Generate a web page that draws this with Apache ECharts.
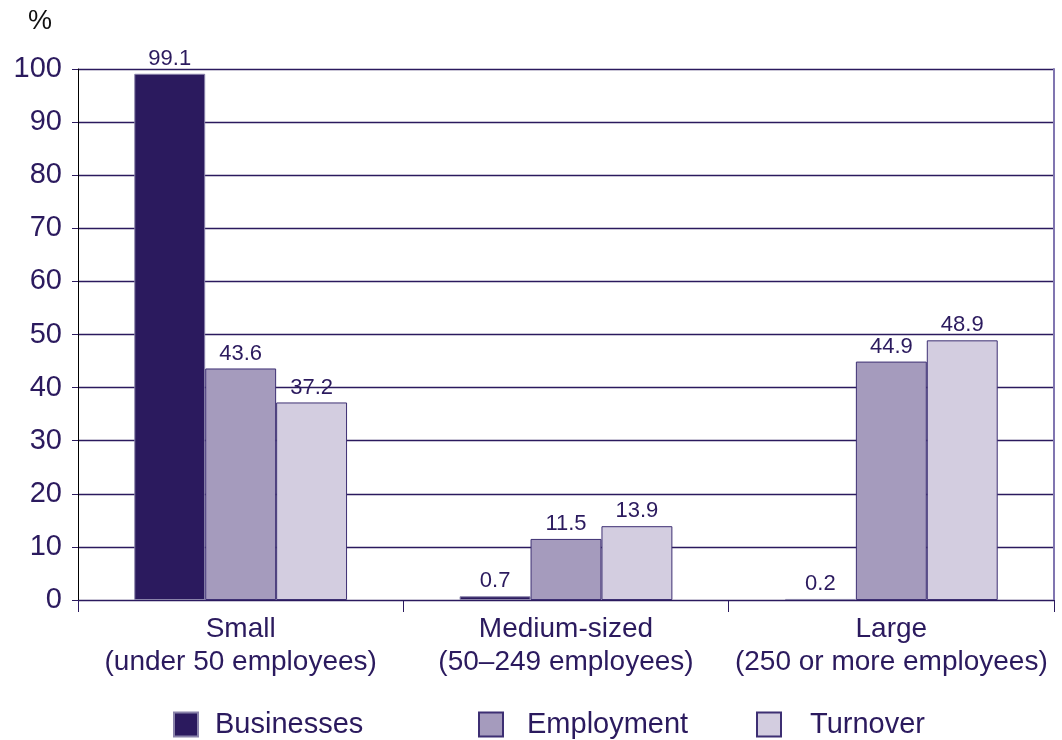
<!DOCTYPE html>
<html>
<head>
<meta charset="utf-8">
<script src="https://cdn.jsdelivr.net/npm/echarts@6/dist/echarts.min.js"></script>
<style>html,body{margin:0;padding:0;background:#fff;}#c{width:1062px;height:740px;}</style>
</head>
<body>
<div id="c"></div>
<script>
const categories = ['Small\n(under 50 employees)', 'Medium-sized\n(50\u2013249 employees)', 'Large\n(250 or more employees)'];
const seriesNames = ['Businesses', 'Employment', 'Turnover'];
const businesses = [99.1, 0.7, 0.2];
const employment = [43.6, 11.5, 44.9];
const turnover = [37.2, 13.9, 48.9];
const yTicks = [0, 10, 20, 30, 40, 50, 60, 70, 80, 90, 100];

const dark = '#2b1a5e';
const font = 'Liberation Sans, Arial, Helvetica, sans-serif';
const chart = echarts.init(document.getElementById('c'));
const lbl = { show: true, position: 'top', distance: 4, color: dark, fontSize: 22, fontFamily: font, formatter: p => p.value.toFixed(1) };
const legendPos = [[173, 12], [478, 19], [756, 24]];
chart.setOption({
  animation: false,
  textStyle: { fontFamily: font },
  title: { text: '%', left: 28, top: 8, padding: 0, textStyle: { color: '#111', fontSize: 27, fontWeight: 'normal', fontFamily: font } },
  grid: { left: 78, right: 8, top: 69, bottom: 140, containLabel: false },
  legend: seriesNames.map((n, i) => ({
    left: legendPos[i][0], top: 710, padding: 0, itemWidth: 24, itemHeight: 24, icon: 'rect',
    textStyle: { color: dark, fontSize: 29, fontFamily: font, padding: [0, 0, 0, legendPos[i][1]] },
    data: [n]
  })),
  xAxis: {
    type: 'category', data: categories,
    axisLine: { show: true, lineStyle: { color: dark, width: 1 } },
    axisTick: { show: true, alignWithLabel: false, length: 12, lineStyle: { color: dark } },
    axisLabel: { color: dark, fontSize: 28, lineHeight: 33, margin: 13, fontFamily: font, interval: 0 }
  },
  yAxis: [{
    type: 'value', min: 0, max: 100, interval: 10,
    axisLine: { show: true, lineStyle: { color: '#000', width: 1 } },
    axisTick: { show: true, length: 6, lineStyle: { color: dark } },
    axisLabel: { color: dark, fontSize: 29, margin: 16, fontFamily: font, formatter: v => yTicks.includes(v) ? String(v) : '' },
    splitLine: { show: true, lineStyle: { color: dark, width: 1.3 } }
  }, {
    type: 'value', min: 0, max: 100, interval: 10, position: 'right',
    axisLine: { show: true, lineStyle: { color: '#8075b0', width: 2 } },
    axisTick: { show: false }, axisLabel: { show: false }, splitLine: { show: false }
  }],
  series: [
    { name: seriesNames[0], type: 'bar', data: businesses, barGap: '0%', barCategoryGap: '34.6%',
      itemStyle: { color: dark, borderColor: '#8a83aa', borderWidth: 1 }, label: lbl },
    { name: seriesNames[1], type: 'bar', data: employment,
      itemStyle: { color: '#a59bbd', borderColor: '#3d2f73', borderWidth: 1 }, label: lbl },
    { name: seriesNames[2], type: 'bar', data: turnover,
      itemStyle: { color: '#d3cde0', borderColor: '#3d2f73', borderWidth: 1 }, label: lbl }
  ]
});
</script>
</body>
</html>
